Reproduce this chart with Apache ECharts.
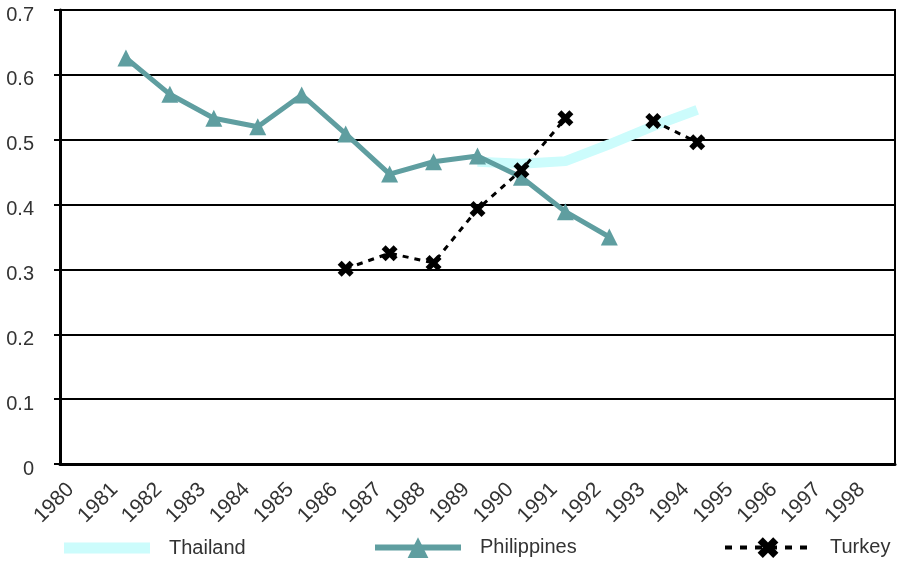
<!DOCTYPE html>
<html>
<head>
<meta charset="utf-8">
<script src="https://cdn.jsdelivr.net/npm/echarts@6/dist/echarts.min.js"></script>
<style>
  html, body { margin: 0; padding: 0; background: #fff; }
  #chart { width: 903px; height: 566px; }
</style>
</head>
<body>
<div id="chart"></div>
<script>
const years = ['1980', '1981', '1982', '1983', '1984', '1985', '1986', '1987', '1988', '1989',
    '1990', '1991', '1992', '1993', '1994', '1995', '1996', '1997', '1998'];
const thailand = [null, null, null, null, null, null, null, null, null, 0.466,
    0.463, 0.467, 0.493, 0.521, 0.546, null, null, null, null];
const philippines = [null, 0.626, 0.570, 0.533, 0.520, 0.569, 0.509, 0.447, 0.466, 0.475,
    0.442, 0.389, 0.350, null, null, null, null, null, null];
const turkey = [null, null, null, null, null, null, 0.301, 0.325, 0.310, 0.393,
    0.453, 0.533, null, 0.529, 0.496, null, null, null, null];

const font = 'Liberation Sans';
// bold X marker used by Turkey
const xMark = 'path://M0,2.5 L2.5,0 L5,2.5 L7.5,0 L10,2.5 L7.5,5 L10,7.5 L7.5,10 L5,7.5 L2.5,10 L0,7.5 L2.5,5 Z';
const teal = '#5f9ea0';
const cyan = '#ccfcfc';

const chart = echarts.init(document.getElementById('chart'));

const legendBase = {
    bottom: 3,
    itemWidth: 86,
    itemHeight: 26,
    itemGap: 0,
    textStyle: { fontFamily: font, fontSize: 20, color: '#333', padding: [4, 0, 0, 14] }
};

chart.setOption({
    animation: false,
    grid: {
        left: 60, right: 8, top: 10, bottom: 102,
        show: true, borderColor: '#000', borderWidth: 2
    },
    legend: [
        Object.assign({}, legendBase, {
            left: 59, bottom: 3, itemHeight: 11,
            data: [{ name: 'Thailand', icon: 'rect' }]
        }),
        Object.assign({}, legendBase, {
            left: 367, lineStyle: { width: 6 },
            data: ['Philippines']
        }),
        Object.assign({}, legendBase, {
            left: 718, lineStyle: { width: 4, type: [7, 8] },
            data: ['Turkey']
        })
    ],
    xAxis: {
        type: 'category',
        data: years,
        boundaryGap: true,
        axisLine: { lineStyle: { color: '#000', width: 3 } },
        axisTick: { length: 6, lineStyle: { color: '#000', width: 2 } },
        axisLabel: {
            rotate: 45, interval: 0, margin: 11,
            padding: [0, 16, 0, 0],
            fontFamily: font, fontSize: 21, color: '#333'
        }
    },
    yAxis: {
        type: 'value',
        min: 0, max: 0.7, interval: 0.1,
        axisLine: { show: true, lineStyle: { color: '#000', width: 3 } },
        axisTick: { show: true, length: 6, lineStyle: { color: '#000', width: 2 } },
        splitLine: { lineStyle: { color: '#000', width: 2 } },
        axisLabel: {
            margin: 26, verticalAlign: 'top', lineHeight: 10,
            fontFamily: font, fontSize: 20, color: '#333',
            formatter: v => v === 0 ? '0' : v.toFixed(1)
        }
    },
    series: [
        {
            name: 'Thailand', type: 'line', data: thailand,
            showSymbol: false, symbol: 'none',
            lineStyle: { color: cyan, width: 10 },
            itemStyle: { color: cyan }
        },
        {
            name: 'Philippines', type: 'line', data: philippines,
            symbol: 'triangle', symbolSize: 17,
            lineStyle: { color: teal, width: 5 },
            itemStyle: { color: teal }
        },
        {
            name: 'Turkey', type: 'line', data: turkey,
            symbol: xMark, symbolSize: 16,
            connectNulls: false,
            lineStyle: { color: '#000', width: 3, type: [6, 6] },
            itemStyle: { color: '#000' }
        }
    ]
});
</script>
</body>
</html>
